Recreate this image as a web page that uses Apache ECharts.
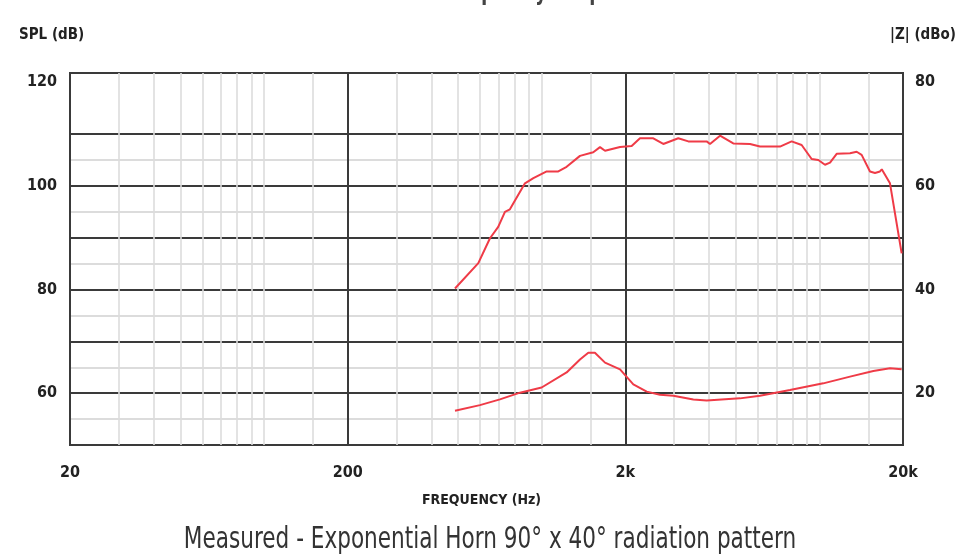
<!DOCTYPE html>
<html><head><meta charset="utf-8">
<script src="https://cdn.jsdelivr.net/npm/echarts@6/dist/echarts.min.js"></script>
<style>html,body{margin:0;padding:0;background:#fff}#c{width:963px;height:560px}</style>
</head><body><div id="c"></div>
<script>
// SPL response (Hz, dB)
const splFreq = [487, 591, 651, 697, 737, 768, 870, 933, 1042, 1147, 1229, 1373, 1533, 1621, 1690, 1914, 2108, 2258, 2522, 2740, 3103, 3372, 3926, 4036, 4386, 4896, 5624, 6108, 7212, 7944, 8630, 9376, 9910, 10472, 10920, 11538, 12890, 13618, 14194, 15210, 15854, 16524, 16770, 17954, 19780];
const splDb = [80.2, 85.1, 89.9, 92.1, 95.0, 95.5, 100.5, 101.5, 102.8, 102.8, 103.7, 105.8, 106.5, 107.5, 106.8, 107.5, 107.7, 109.2, 109.2, 108.1, 109.2, 108.6, 108.6, 108.1, 109.7, 108.2, 108.1, 107.6, 107.6, 108.6, 107.9, 105.2, 105.0, 104.1, 104.5, 106.2, 106.3, 106.6, 106.0, 102.8, 102.5, 102.8, 103.2, 100.5, 87.0];
// Impedance (Hz, dBo)
const zFreq = [487, 599, 707, 835, 999, 1229, 1373, 1471, 1554, 1690, 1914, 2137, 2388, 2666, 2978, 3516, 3926, 5176, 6108, 7834, 10328, 12890, 15638, 17954, 19780];
const zDbo = [16.6, 17.7, 18.8, 20.1, 21.1, 24.0, 26.5, 27.8, 27.8, 25.9, 24.6, 21.7, 20.3, 19.7, 19.5, 18.8, 18.6, 19.0, 19.5, 20.6, 21.9, 23.2, 24.3, 24.8, 24.6];
// axis tick labels
const xTickLabels = ['20', '200', '2k', '20k'];
const leftTickLabels = [60, 80, 100, 120];
const rightTickLabels = [20, 40, 60, 80];
// light log grid lines (Hz)
const minorFreqs = [30, 40, 50, 60, 70, 80, 90, 100, 150, 300, 400, 500, 600, 700, 800, 900, 1000, 1500, 3000, 4000, 5000, 6000, 7000, 8000, 9000, 10000, 15000];
// texts
const topTitle = 'Measured - Frequency Response';
const caption = 'Measured - Exponential Horn 90° x 40° radiation pattern';

const FONT = '"Liberation Sans Narrow", "DejaVu Sans Condensed", "Roboto", sans-serif';
const RED = '#ef3b47';
const DARK = '#3a3a3a';
const LIGHT = '#dcdcdc';

const chart = echarts.init(document.getElementById('c'), null, {renderer: 'canvas'});
const hColors = [DARK, LIGHT, DARK, LIGHT, DARK, LIGHT, DARK, LIGHT, DARK, LIGHT, DARK, LIGHT, DARK, 'rgba(0,0,0,0)', 'rgba(0,0,0,0)', 'rgba(0,0,0,0)'];

chart.setOption({
  animation: false,
  backgroundColor: '#fff',
  title: [
    {text: 'SPL (dB)', left: 14, top: 23,
     textStyle: {fontFamily: FONT, fontSize: 15, fontWeight: 'bold', color: '#222'}},
    {text: '|Z| (dBo)', right: 2, top: 23,
     textStyle: {fontFamily: FONT, fontSize: 15, fontWeight: 'bold', color: '#222'}},
    {text: 'FREQUENCY (Hz)', left: 'center', top: 488,
     textStyle: {fontFamily: FONT, fontSize: 14, fontWeight: 'bold', color: '#222'}}
  ],
  graphic: [
    {type: 'text', x: 487, y: -8, scaleX: 0.76, silent: true,
     style: {text: topTitle, font: 'bold 26px ' + FONT, fill: '#444', align: 'center', verticalAlign: 'middle'}},
    {type: 'text', x: 490, y: 540, scaleX: 0.8, silent: true,
     style: {text: caption, font: '30px ' + FONT, fill: '#333', align: 'center', verticalAlign: 'middle'}}
  ],
  grid: {left: 70, right: 60, top: 73, bottom: 115, show: true, borderColor: DARK, borderWidth: 2, backgroundColor: 'transparent'},
  xAxis: [
    {type: 'log', min: 20, max: 20000, logBase: 10, position: 'top', show: false},
    {type: 'value', min: 0, max: 3, interval: 1, position: 'bottom',
     axisLine: {show: false}, axisTick: {show: false},
     axisLabel: {margin: 20, fontFamily: FONT, fontSize: 16, fontWeight: 'bold', color: '#222',
       formatter: v => xTickLabels[Math.round(v)] || ''},
     splitLine: {show: true, lineStyle: {color: DARK, width: 2}}}
  ],
  yAxis: [
    {type: 'value', min: 50, max: 121.8, interval: 5, position: 'left',
     axisLine: {show: false}, axisTick: {show: false},
     axisLabel: {margin: 13, fontFamily: FONT, fontSize: 16, fontWeight: 'bold', color: '#222',
       formatter: v => leftTickLabels.includes(v) ? String(v) : ''},
     splitLine: {show: true, lineStyle: {color: hColors, width: 2}}},
    {type: 'value', min: 10, max: 81.8, interval: 5, position: 'right',
     axisLine: {show: false}, axisTick: {show: false},
     axisLabel: {margin: 12, fontFamily: FONT, fontSize: 16, fontWeight: 'bold', color: '#222',
       formatter: v => rightTickLabels.includes(v) ? String(v) : ''},
     splitLine: {show: false}}
  ],
  series: [
    {type: 'line', name: 'SPL', xAxisIndex: 0, yAxisIndex: 0, showSymbol: false, z: 3,
     data: splFreq.map((f, i) => [f, splDb[i]]),
     lineStyle: {color: RED, width: 2}, itemStyle: {color: RED},
     markLine: {silent: true, symbol: ['none', 'none'], z: 1, animation: false,
       label: {show: false}, lineStyle: {color: LIGHT, width: 1.6, type: 'solid'},
       emphasis: {disabled: true},
       data: minorFreqs.map(f => ({xAxis: f}))}},
    {type: 'line', name: '|Z|', xAxisIndex: 0, yAxisIndex: 1, showSymbol: false, z: 3,
     data: zFreq.map((f, i) => [f, zDbo[i]]),
     lineStyle: {color: RED, width: 2}, itemStyle: {color: RED}}
  ]
});
</script>
</body></html>
